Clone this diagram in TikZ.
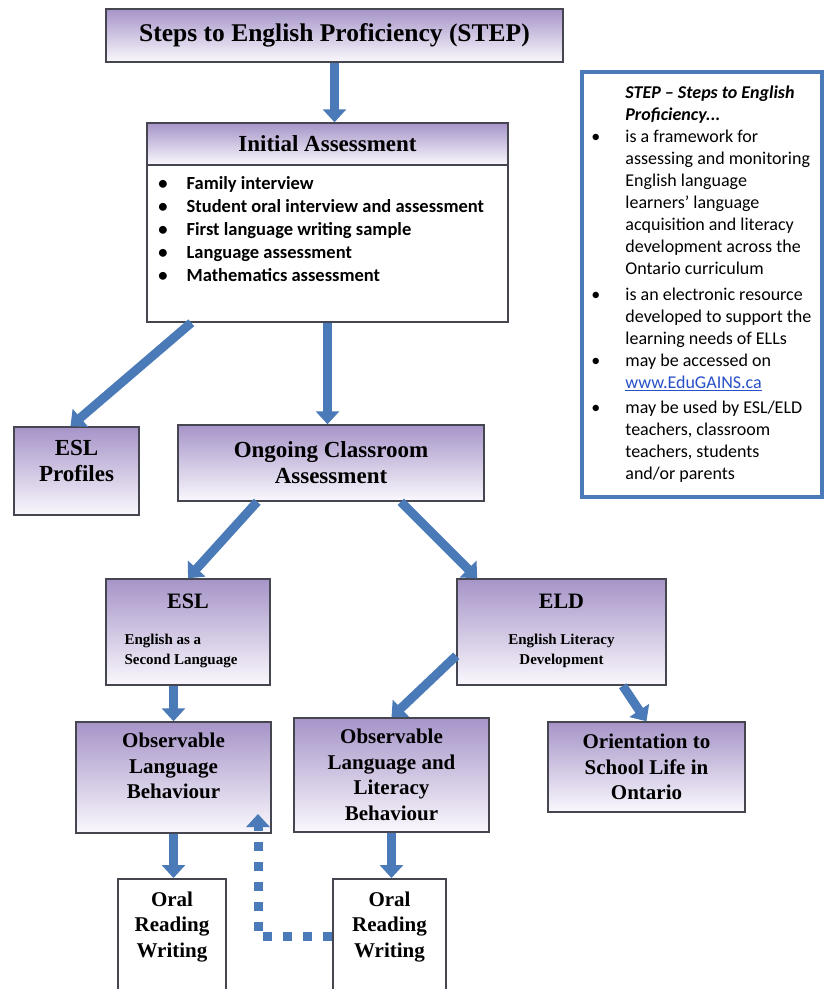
\documentclass[tikz,border=0pt]{standalone}
\usepackage{fontspec}
\newfontfamily\calfont{Carlito}
\newfontfamily\camfont{Liberation Serif}
\usetikzlibrary{arrows.meta}
\definecolor{flowblue}{RGB}{74,122,184}
\definecolor{boxline}{RGB}{70,70,80}
\definecolor{lavtop}{RGB}{166,148,200}
\definecolor{lavmid}{RGB}{216,206,232}
\definecolor{lavbot}{RGB}{250,248,253}
\definecolor{linkblue}{RGB}{40,80,200}
\newcommand{\bw}{1.5pt}
\newcommand{\aw}{9pt}
\newcommand{\BF}{\camfont\bfseries\fontsize{21}{25.5}\selectfont}
\newcommand{\HF}{\camfont\bfseries\fontsize{23}{26}\selectfont}
\tikzset{
    stepbox/.style={draw=boxline,line width=\bw,top color=lavtop,middle color=lavmid,bottom color=lavbot,inner sep=0pt,align=center,font=\BF},
    whitebox/.style={draw=boxline,line width=\bw,fill=white,inner sep=0pt},
    infobox/.style={draw=flowblue,line width=3.5pt,fill=white,inner sep=0pt},
    boxtext/.style={inner sep=0pt,align=center,font=\BF},
    flow/.style={draw=flowblue,line width=\aw,-{Triangle[length=13pt,width=23pt]}},
    backflow/.style={flow,dash pattern=on 9pt off 11pt},
}
\begin{document}
\begin{tikzpicture}[x=1pt,y=-1pt]
    \useasboundingbox (0,0) rectangle (825,989);
    \clip (0,0) rectangle (825,989);
    \fill[white] (0,0) rectangle (825,989);

    \node[stepbox,minimum width=457pt,minimum height=53pt,font=\camfont\bfseries\fontsize{25.5}{28}\selectfont] (title) at (334.5,35.5) {Steps to English Proficiency (STEP)};

    \node[stepbox,minimum width=361pt,minimum height=42pt,font=\HF] (iahead) at (327.5,144) {Initial Assessment};
    \node[whitebox,minimum width=361pt,minimum height=157pt] (iabody) at (327.5,243.5) {};
    \node[anchor=north west,inner sep=0pt,font=\calfont\bfseries\fontsize{18.5}{23}\selectfont] (ialist) at ([xshift=12pt,yshift=-9pt]iabody.north west) {%
        \begin{tabular}{@{}l@{\hspace{19pt}}l@{}}
            \textbullet & Family interview\\
            \textbullet & Student oral interview and assessment\\
            \textbullet & First language writing sample\\
            \textbullet & Language assessment\\
            \textbullet & Mathematics assessment
        \end{tabular}};

    \node[infobox,minimum width=240pt,minimum height=425pt] (info) at (702,284.5) {};
    \node[anchor=north west,inner sep=0pt,font=\calfont\fontsize{18}{22}\selectfont] (infotext) at ([xshift=11pt,yshift=-13pt]info.north west) {%
        \begin{tabular}{@{}l@{\hspace{25pt}}l@{}}
            & \textbf{\textit{STEP – Steps to English}}\\
            & \textbf{\textit{Proficiency...}}\\
            \textbullet & is a framework for\\
            & assessing and monitoring\\
            & English language\\
            & learners’ language\\
            & acquisition and literacy\\
            & development across the\\
            & Ontario curriculum\\[4pt]
            \textbullet & is an electronic resource\\
            & developed to support the\\
            & learning needs of ELLs\\
            \textbullet & may be accessed on\\
            & \textcolor{linkblue}{\underline{www.EduGAINS.ca}}\\[3pt]
            \textbullet & may be used by ESL/ELD\\
            & teachers, classroom\\
            & teachers, students\\
            & and/or parents
        \end{tabular}};

    \node[stepbox,minimum width=125pt,minimum height=88pt] (profiles) at (76.5,471) {};
    \node[boxtext,font=\HF] (profiles-t) at (76.5,460.5) {ESL\\Profiles};

    \node[stepbox,minimum width=306pt,minimum height=76pt,font=\HF] (ongoing) at (331,463) {Ongoing Classroom\\Assessment};

    \node[stepbox,minimum width=164pt,minimum height=106pt] (esl) at (188,632) {%
        {\fontsize{22}{24}\selectfont ESL}\\[20pt]
        {\fontsize{15}{20}\selectfont\begin{tabular}{@{}l@{}}English as a\\Second Language\end{tabular}\hspace*{14pt}}};
    \node[stepbox,minimum width=209pt,minimum height=106pt] (eld) at (561.5,632) {%
        {\fontsize{22}{24}\selectfont ELD}\\[20pt]
        {\fontsize{15}{20}\selectfont\begin{tabular}{@{}c@{}}English Literacy\\Development\end{tabular}}};

    \node[stepbox,minimum width=195pt,minimum height=111pt] (olb) at (173.5,777.5) {};
    \node[boxtext] (olb-t) at (173.5,766) {Observable\\Language\\Behaviour};
    \node[stepbox,minimum width=195pt,minimum height=114pt] (ollb) at (391.5,775) {Observable\\Language and\\Literacy\\Behaviour};
    \node[stepbox,minimum width=197pt,minimum height=90pt] (orient) at (646.5,767) {Orientation to\\School Life in\\Ontario};

    \node[whitebox,minimum width=108pt,minimum height=125pt,anchor=north] (oral1) at (172,878) {};
    \node[boxtext] (oral1-t) at ([yshift=-49pt]oral1.north) {Oral\\Reading\\Writing};
    \node[whitebox,minimum width=113pt,minimum height=125pt,anchor=north] (oral2) at (389.5,878) {};
    \node[boxtext] (oral2-t) at ([yshift=-49pt]oral2.north) {Oral\\Reading\\Writing};

    \coordinate (back) at (258,814);

    \draw[flow] (title.south) -- (title.south |- iahead.north);
    \draw[flow] (iabody.south) -- (iabody.south |- ongoing.north);
    \draw[flow] ([xshift=45pt]iabody.south west) -- ([xshift=-6pt]profiles.north);
    \draw[flow] ([xshift=80pt]ongoing.south west) -- (esl.north);
    \draw[flow] ([xshift=-84pt]ongoing.south east) -- ([xshift=21pt]eld.north west);
    \draw[flow] (esl.south -| olb.north) -- (olb.north);
    \draw[flow] ([yshift=30pt]eld.south west) -- (ollb.north);
    \draw[flow] ([xshift=-44pt]eld.south east) -- (orient.north);
    \draw[flow] (olb.south) -- (olb.south |- oral1.north);
    \draw[flow] (ollb.south) -- (ollb.south |- oral2.north);
    \draw[backflow] ([yshift=5pt]oral2.west) -| (back);
\end{tikzpicture}
\end{document}
